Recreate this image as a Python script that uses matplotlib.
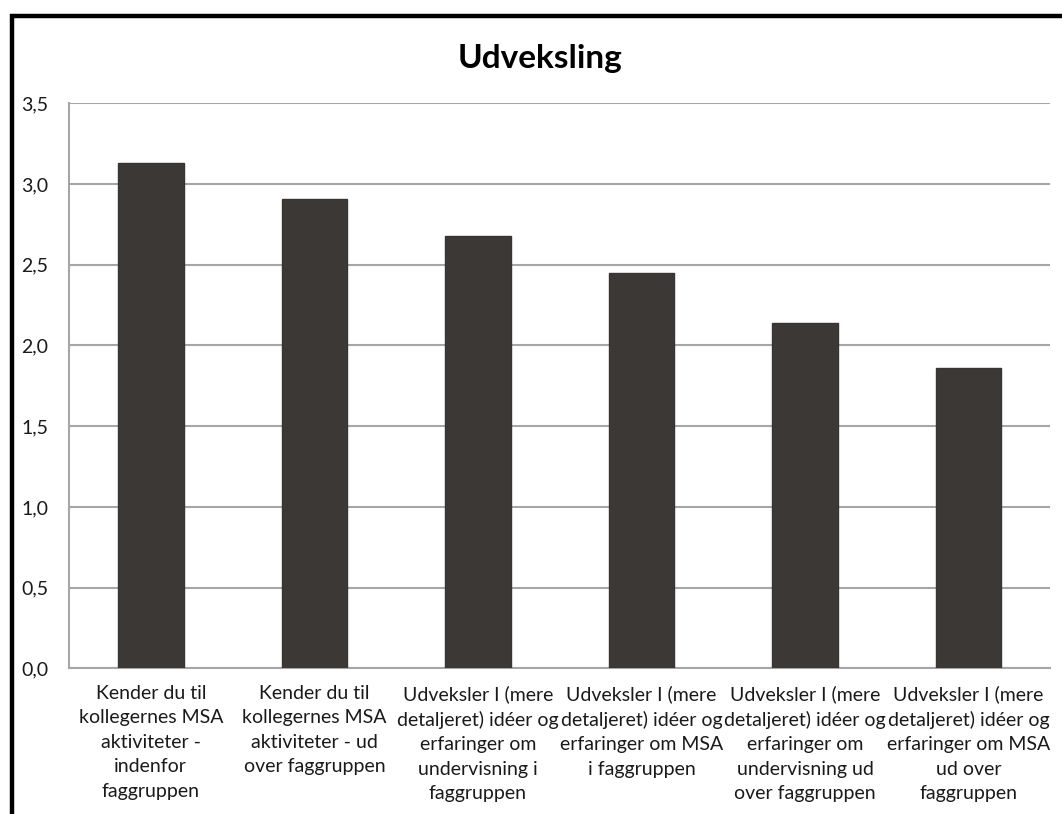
import matplotlib.pyplot as plt
from matplotlib.patches import Rectangle
from matplotlib.ticker import FuncFormatter

categories = [
    "Kender du til\nkollegernes MSA\naktiviteter -\nindenfor\nfaggruppen",
    "Kender du til\nkollegernes MSA\naktiviteter - ud\nover faggruppen",
    "Udveksler I (mere\ndetaljeret) idéer og\nerfaringer om\nundervisning i\nfaggruppen",
    "Udveksler I (mere\ndetaljeret) idéer og\nerfaringer om MSA\ni faggruppen",
    "Udveksler I (mere\ndetaljeret) idéer og\nerfaringer om\nundervisning ud\nover faggruppen",
    "Udveksler I (mere\ndetaljeret) idéer og\nerfaringer om MSA\nud over\nfaggruppen",
]
values = [3.13, 2.91, 2.68, 2.45, 2.14, 1.86]
y_ticks = [0.0, 0.5, 1.0, 1.5, 2.0, 2.5, 3.0, 3.5]

plt.rcParams['font.family'] = ['Lato', 'DejaVu Sans']

fig = plt.figure(figsize=(10.62, 8.14), dpi=100)
ax = fig.add_axes([0.065, 0.179, 0.924, 0.694])

x = range(len(values))
ax.bar(x, values, width=0.4, color='#3b3836', edgecolor='#363434', linewidth=1, zorder=3)

ax.set_xlim(-0.5, len(values) - 0.5)
ax.set_ylim(0, 3.5)
ax.set_yticks(y_ticks)
ax.yaxis.set_major_formatter(FuncFormatter(lambda v, p: f"{v:.1f}".replace(".", ",")))
ax.set_xticks(list(x))
ax.set_xticklabels(categories, fontsize=14, linespacing=1.53)
ax.tick_params(axis='both', length=0, labelsize=14, colors='#1a1a1a')
ax.tick_params(axis='y', pad=15)
ax.tick_params(axis='x', pad=12)

ax.grid(axis='y', color='#a6a6a6', linewidth=1.5, zorder=0)
for side in ['top', 'right']:
    ax.spines[side].set_visible(False)
for side in ['left', 'bottom']:
    ax.spines[side].set_color('#a6a6a6')
    ax.spines[side].set_linewidth(1.5)

fig.text(0.509, 0.928, "Udveksling", ha='center', va='center', fontsize=24, fontweight='bold')

# frame around chart (only top/left visible in the crop)
fig.patches.append(Rectangle((12 / 1062, -0.1), 1.2, 1 - 16 / 814 + 0.1, transform=fig.transFigure,
                             fill=False, edgecolor='black', linewidth=3.2))

fig.savefig("out.png", dpi=100)
